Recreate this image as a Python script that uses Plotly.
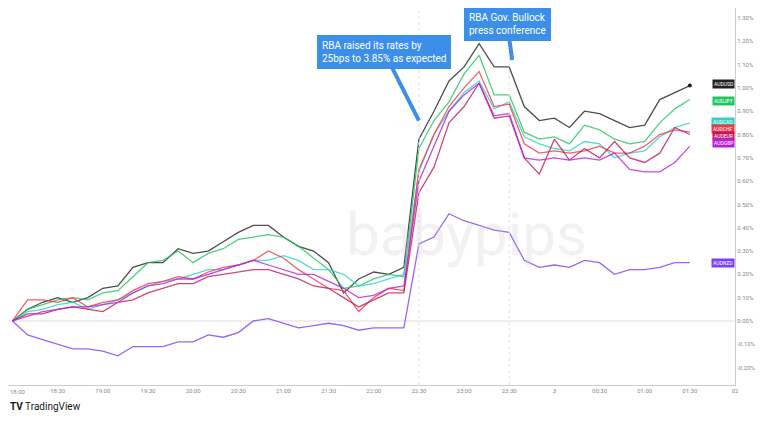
import pandas as pd
import plotly.graph_objects as go

times = pd.date_range("2023-08-01 18:00", periods=46, freq="10min")

audusd = [0, .05, .08, .10, .08, .10, .14, .15, .23, .25, .25, .31, .29, .30, .34, .38, .41, .41, .36, .32,
          .30, .25, .12, .18, .21, .20, .23, .78, .90, 1.03, 1.09, 1.19, 1.09, 1.09, .92, .86, .87, .83, .90, .89,
          .86, .83, .84, .95, .98, 1.01]
audjpy = [0, .05, .07, .09, .10, .09, .12, .13, .19, .25, .26, .30, .25, .29, .31, .35, .36, .37, .36, .32,
          .27, .22, .14, .15, .18, .20, .19, .74, .86, .94, 1.06, 1.14, .97, .97, .81, .78, .79, .76, .84, .82,
          .78, .76, .77, .85, .91, .95]
audcad = [0, .04, .05, .07, .08, .05, .07, .09, .12, .15, .17, .18, .20, .22, .22, .24, .26, .26, .28, .26,
          .22, .22, .20, .15, .16, .18, .20, .64, .80, .90, .98, 1.03, .91, .94, .79, .76, .74, .73, .77, .76,
          .70, .72, .73, .79, .83, .85]
audchf = [0, .09, .09, .08, .10, .06, .08, .09, .13, .16, .17, .19, .18, .21, .23, .24, .26, .30, .27, .22,
          .18, .14, .13, .04, .10, .14, .13, .65, .80, .92, 1.00, 1.07, .92, .93, .76, .72, .73, .72, .73, .75,
          .72, .72, .75, .80, .82, .81]
audeur = [0, .03, .03, .05, .06, .05, .04, .08, .09, .12, .14, .16, .16, .19, .20, .21, .22, .22, .20, .18,
          .15, .14, .10, .06, .09, .12, .12, .55, .66, .85, .92, 1.02, .87, .88, .70, .63, .78, .69, .74, .70,
          .77, .70, .68, .72, .83, .80]
audgbp = [0, .02, .04, .05, .06, .06, .07, .08, .12, .15, .16, .18, .18, .20, .22, .24, .26, .24, .22, .20,
          .20, .17, .14, .10, .11, .14, .15, .60, .75, .90, .97, 1.02, .88, .89, .70, .69, .70, .69, .70, .69,
          .72, .65, .64, .64, .68, .75]
audnzd = [0, -.06, -.08, -.10, -.12, -.12, -.13, -.15, -.11, -.11, -.11, -.09, -.09, -.06, -.07, -.05, 0.0, .01,
          -.01, -.03, -.02, -.01, -.02, -.04, -.03, -.03, -.03, .33, .36, .46, .43, .41, .39, .38, .26, .23, .24,
          .23, .26, .25, .20, .22, .22, .23, .25, .25]

series = [("AUDUSD", audusd, "#222222"), ("AUDJPY", audjpy, "#22c55e"), ("AUDCAD", audcad, "#2dd4bf"),
          ("AUDCHF", audchf, "#f23645"), ("AUDEUR", audeur, "#c2185b"), ("AUDGBP", audgbp, "#b620e0"),
          ("AUDNZD", audnzd, "#7b42f6")]
label_y = [1.015, 0.945, 0.855, 0.825, 0.795, 0.765, 0.25]

tick_times = pd.date_range("2023-08-01 18:00", "2023-08-02 02:00", freq="30min")
tick_text = [t.strftime("%H:%M") for t in tick_times]
tick_text[12] = "3"
tick_text[-1] = "02"
y_ticks = [1.3, 1.2, 1.1, 1.0, 0.9, 0.8, 0.7, 0.6, 0.5, 0.4, 0.3, 0.2, 0.1, 0.0, -0.1, -0.2]

fig = go.Figure()
for name, vals, col in series:
    fig.add_trace(go.Scatter(x=times, y=vals, mode="lines", name=name,
                             line=dict(color=col, width=1.3), opacity=0.8))
fig.add_trace(go.Scatter(x=[times[-1]], y=[audusd[-1]], mode="markers",
                         marker=dict(color="#222222", size=4), showlegend=False))

for (name, vals, col), ly in zip(series, label_y):
    fig.add_annotation(x=1, xref="paper", xanchor="right", y=ly, yref="y", text=name,
                       showarrow=False, bgcolor=col, font=dict(size=5, color="white"),
                       borderpad=1)

# watermark
fig.add_annotation(x=0.63, y=0.3, xref="paper", yref="paper", text="babypips", showarrow=False,
                   font=dict(size=60, color="rgba(200,200,200,0.25)", family="Roboto"))

blue = "#3b8fe8"
fig.add_annotation(x=pd.Timestamp("2023-08-01 22:30"), y=0.86, ax=-35, ay=-69,
                   text="RBA raised its rates by<br>25bps to 3.85% as expected", align="left",
                   showarrow=True, arrowhead=0, arrowwidth=4, arrowcolor=blue, bgcolor=blue,
                   bordercolor=blue, borderpad=4, font=dict(color="white", size=10))
fig.add_annotation(x=pd.Timestamp("2023-08-01 23:32"), y=1.12, ax=-5, ay=-36,
                   text="RBA Gov. Bullock<br>press conference", align="left",
                   showarrow=True, arrowhead=0, arrowwidth=4, arrowcolor=blue, bgcolor=blue,
                   bordercolor=blue, borderpad=4, font=dict(color="white", size=10))

# first time label would be clipped by the paper edge, so place it by hand
fig.add_annotation(x=0, xref="paper", xanchor="left", y=-0.018, yref="paper", yanchor="middle",
                   text=tick_text[0], showarrow=False, font=dict(size=6, color="#888"))

fig.add_annotation(x=0.0, y=-0.056, xref="paper", yref="paper", xanchor="left", yanchor="middle",
                   text="<b>TV</b> TradingView", showarrow=False, font=dict(size=10, color="#131722"))

for t in ["2023-08-01 22:30", "2023-08-01 23:30"]:
    fig.add_vline(x=pd.Timestamp(t), line=dict(color="#e0e0e0", width=1, dash="dot"))

fig.update_layout(
    width=752, height=405, margin=dict(l=0, r=25, t=0, b=28),
    paper_bgcolor="white", plot_bgcolor="white", showlegend=False,
    font=dict(family="Roboto", color="#777"),
    xaxis=dict(range=[pd.Timestamp("2023-08-01 17:57"), pd.Timestamp("2023-08-02 02:00")],
               tickvals=tick_times, ticktext=tick_text, tickfont=dict(size=6, color="#888"),
               showgrid=False, showline=True, linecolor="#ccc", mirror=False, ticks="",
               automargin=False),
    yaxis=dict(side="right", range=[-0.275, 1.343], tickvals=y_ticks, automargin=False,
               ticktext=[f"{v:.2f}%" for v in y_ticks], tickfont=dict(size=6, color="#888"),
               showgrid=False, zeroline=True, zerolinecolor="#eee", showline=True, linecolor="#ccc"),
)

fig.write_html("out.html")
